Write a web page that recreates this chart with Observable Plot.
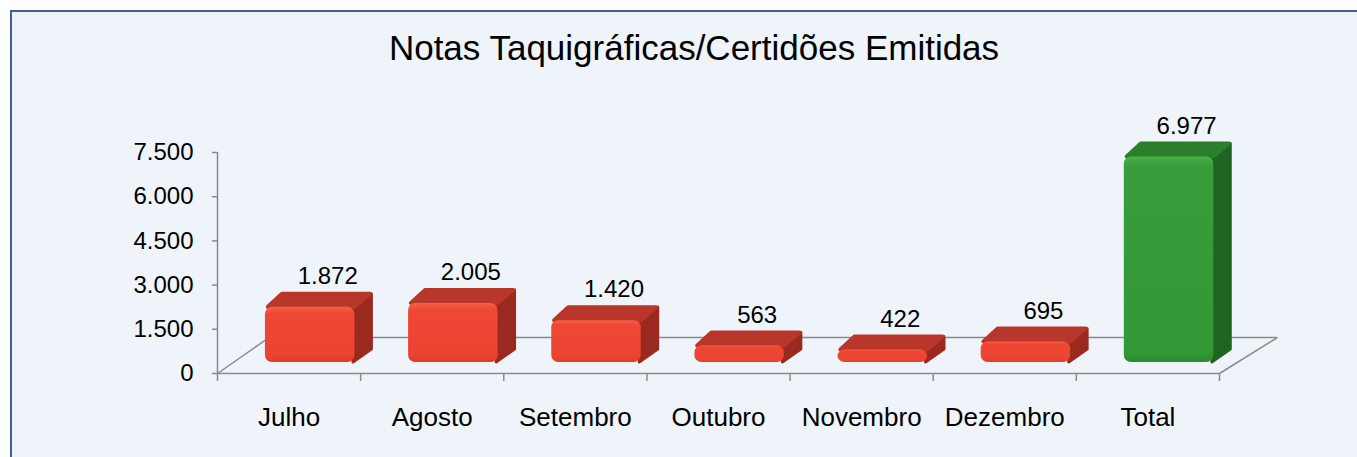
<!DOCTYPE html>
<html><head><meta charset="utf-8">
<script src="https://cdn.jsdelivr.net/npm/d3@7"></script>
<script src="https://cdn.jsdelivr.net/npm/@observablehq/plot@0.6"></script>
<style>
html,body{margin:0;padding:0;background:#fff;overflow:hidden;width:1357px;height:457px;font-family:"Liberation Sans",Arial,sans-serif;}
#frame{position:absolute;left:10px;top:10px;width:1400px;height:500px;border:2px solid #41618c;background:#eef4f9;box-sizing:border-box}
#title{position:absolute;left:0;width:1388px;top:30px;text-align:center;font-size:35px;line-height:35px;color:#000;white-space:nowrap}
#chart{position:absolute;left:0;top:0}
</style></head><body>
<div id="frame"></div>
<div id="title">Notas Taquigráficas/Certidões Emitidas</div>
<div id="chart"></div>
<svg width="0" height="0" style="position:absolute"><defs>
<linearGradient id="redFront" x1="0" y1="0" x2="0" y2="1">
<stop offset="0" stop-color="#f6604b"/><stop offset="0.12" stop-color="#ee4734"/><stop offset="0.85" stop-color="#ec4432"/><stop offset="1" stop-color="#df3b2a"/>
</linearGradient>
<linearGradient id="greenFront" x1="0" y1="0" x2="0" y2="1">
<stop offset="0" stop-color="#46b247"/><stop offset="0.05" stop-color="#389d3a"/><stop offset="0.95" stop-color="#339936"/><stop offset="1" stop-color="#2b8a2e"/>
</linearGradient>
</defs></svg>
<script>
const categories = ["Julho","Agosto","Setembro","Outubro","Novembro","Dezembro","Total"];
const values = [1872, 2005, 1420, 563, 422, 695, 6977];
const kinds = ["mes","mes","mes","mes","mes","mes","total"];
const yTicks = [0, 1500, 3000, 4500, 6000, 7500];

// styling
const W = 1357, H = 457;
const mL = 217, mR = 138, mT = 152, mB = 84;
const yMax = 7500;
const unitY = yMax / (H - mT - mB);            // value units per px
const unitX = categories.length / (W - mL - mR); // x units per px
const BASE = 11 * unitY;       // bar front bottom above floor front
const DY = 13 * unitY;         // bar depth (vertical)
const DX = 17 * unitX;         // bar depth (horizontal)
const FLOOR = 36 * unitY;      // floor depth
const x0 = 0.335, x1b = 0.96;  // bar front extents within category
const faces = {
  mes: {front: "url(#redFront)", top: "#b8362a", side: "#9a2a1f"},
  total: {front: "url(#greenFront)", top: "#2b7e2b", side: "#1f6521"}
};
const n = categories.length;
const loc = d3.formatLocale({decimal: ",", thousands: ".", grouping: [3], currency: ["", ""]});
const fmt = loc.format(",d");

const rows = categories.map((c, i) => ({c, i, v: values[i], kind: kinds[i]}));
const topPts = rows.flatMap(d => [
  {c: d.c, kind: d.kind, y: BASE + d.v, xa: d.i + x0 + 0.02, xb: d.i + x1b},
  {c: d.c, kind: d.kind, y: BASE + d.v + DY, xa: d.i + x0 + DX, xb: d.i + x1b + DX - 0.01}
]);
const sidePts = rows.flatMap(d => [
  {c: d.c, kind: d.kind, x: d.i + x1b - 0.01, ya: BASE, yb: BASE + d.v},
  {c: d.c, kind: d.kind, x: d.i + x1b + DX, ya: BASE + DY, yb: BASE + d.v + DY}
]);
const axisGray = "#8a8a8a";

const plot = Plot.plot({
  width: W, height: H,
  marginLeft: mL, marginRight: mR, marginTop: mT, marginBottom: mB,
  style: {background: "transparent", fontFamily: "'Liberation Sans', Arial, sans-serif", color: "#000", overflow: "visible"},
  x: {type: "linear", domain: [0, n]},
  y: {domain: [0, yMax]},
  color: {type: "identity"},
  marks: [
    // floor
    Plot.ruleY([0], {x1: 0, x2: n, stroke: axisGray, strokeWidth: 1.5}),
    Plot.ruleY([FLOOR], {x1: 0.36, x2: n + 0.405, stroke: axisGray, strokeWidth: 1.5}),
    Plot.link([{a: 0, b: 0.36}, {a: n, b: n + 0.405}], {x1: "a", y1: 0, x2: "b", y2: FLOOR, stroke: axisGray, strokeWidth: 1.5}),
    Plot.ruleX([0], {y1: 0, y2: yMax, stroke: axisGray, strokeWidth: 1.5}),
    // axes
    Plot.axisY(yTicks, {tickSize: 5, tickPadding: 19, tickFormat: fmt, fontSize: 24, stroke: axisGray, strokeWidth: 1.5}),
    Plot.axisX(d3.range(n + 1), {tickSize: 8, tickFormat: () => "", stroke: axisGray, strokeWidth: 1.5}),
    Plot.axisX(rows.map(d => d.i + 0.5), {tickSize: 0, tickPadding: 34, tickFormat: t => categories[Math.floor(t)], fontSize: 26}),
    // bars
    Plot.areaY(sidePts, {x: "x", y1: "ya", y2: "yb", z: "c", fill: d => faces[d.kind].side, stroke: d => faces[d.kind].side, strokeWidth: 3, strokeLinejoin: "round", curve: "linear"}),
    Plot.areaX(topPts, {y: "y", x1: "xa", x2: "xb", z: "c", fill: d => faces[d.kind].top, stroke: d => faces[d.kind].top, strokeWidth: 4, strokeLinejoin: "round", curve: "linear"}),
    Plot.rect(rows, {x1: d => d.i + x0, x2: d => d.i + x1b, y1: BASE, y2: d => BASE + d.v, fill: d => faces[d.kind].front, rx: 7}),
    // labels
    Plot.text(rows, {x: d => d.i + 0.77, y: d => BASE + d.v + DY, dy: -18, text: d => fmt(d.v), fontSize: 24, fill: "#000"})
  ]
});
document.getElementById("chart").appendChild(plot);
</script>
</body></html>
